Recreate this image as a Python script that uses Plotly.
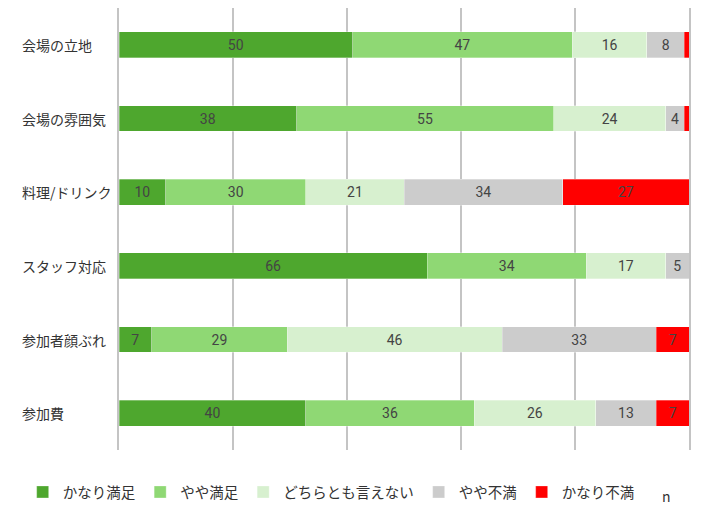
import plotly.graph_objects as go

# 満足度アンケート（人数）
categories = ["会場の立地", "会場の雰囲気", "料理/ドリンク", "スタッフ対応", "参加者顔ぶれ", "参加費"]
series_names = ["かなり満足", "やや満足", "どちらとも言えない", "やや不満", "かなり不満"]
very_satisfied = [50, 38, 10, 66, 7, 40]
satisfied = [47, 55, 30, 34, 29, 36]
neutral = [16, 24, 21, 17, 46, 26]
dissatisfied = [8, 4, 34, 5, 33, 13]
very_dissatisfied = [1, 1, 27, 0, 7, 7]

colors = ["#4ea72e", "#8fd874", "#d7f0cf", "#cccccc", "#ff0000"]
values = [very_satisfied, satisfied, neutral, dissatisfied, very_dissatisfied]

fig = go.Figure()
for name, vals, col in zip(series_names, values, colors):
    fig.add_trace(go.Bar(
        y=categories,
        x=vals,
        name=name,
        orientation="h",
        marker=dict(color=col, line=dict(color="rgba(255,255,255,0.6)", width=0.5)),
        text=vals,
        textposition="inside",
        insidetextanchor="middle",
        textfont=dict(family="Roboto", size=14, color="#444444"),
        width=0.35,
    ))

# 左寄せのカテゴリ名
for c in categories:
    fig.add_annotation(
        x=-(119 - 20) / 570, xref="paper", xanchor="left",
        y=c, yref="y", text=c, showarrow=False,
        font=dict(size=14, color="#333333"),
    )

fig.add_annotation(
    x=(666 - 119) / 570, xref="paper", xanchor="center",
    y=-(496 - 450) / 442, yref="paper", yanchor="middle",
    text="n", showarrow=False, font=dict(size=14, color="#333333"),
)

fig.update_layout(
    width=702, height=503,
    barmode="stack", barnorm="percent",
    margin=dict(l=111, r=21, t=0, b=61),
    plot_bgcolor="white", paper_bgcolor="white",
    font=dict(family="Noto Sans CJK JP", size=14, color="#333333"),
    uniformtext=dict(minsize=12, mode="hide"),
    showlegend=True,
    legend=dict(
        orientation="h", x=-0.169, xanchor="left", y=-42 / 442, yanchor="middle",
        font=dict(size=14.5, color="#333333"), traceorder="normal",
    ),
    xaxis=dict(
        range=[0, 100], tickvals=[0, 20, 40, 60, 80, 100], showticklabels=False,
        showgrid=True, gridcolor="#c4c4c4", gridwidth=1.5, zeroline=False,
    ),
    yaxis=dict(
        autorange="reversed", showticklabels=False, showgrid=False,
        showline=True, mirror=True, linecolor="#c4c4c4", linewidth=1.5,
        layer="below traces",
    ),
)

fig.write_html("out.html")
